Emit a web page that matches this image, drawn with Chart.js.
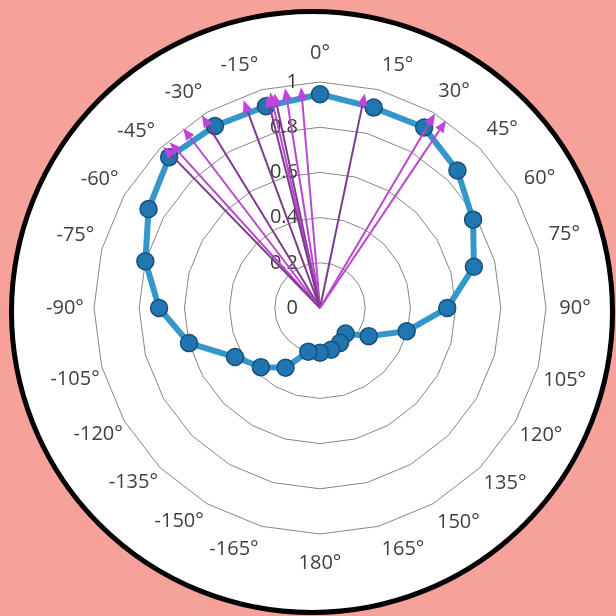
<!DOCTYPE html>
<html>
<head>
<meta charset="utf-8">
<script src="https://cdn.jsdelivr.net/npm/chart.js@4"></script>
<style>
  html, body { margin: 0; padding: 0; background: #f7a19b; }
  #wrap { position: relative; width: 616px; height: 616px; }
  #disc { position: absolute; left: 9px; top: 9px; width: 606px; height: 606px; box-sizing: border-box;
          border: 5px solid #000; border-radius: 50%; background: #fff; }
  #chart { position: absolute; left: 0; top: 0; }
</style>
</head>
<body>
<div id="wrap">
  <div id="disc"></div>
  <canvas id="chart" width="616" height="616"></canvas>
</div>
<script>
// angle labels, clockwise from the top
const angleLabels = ['0°', '15°', '30°', '45°', '60°', '75°', '90°', '105°', '120°', '135°', '150°', '165°',
  '180°', '-165°', '-150°', '-135°', '-120°', '-105°', '-90°', '-75°', '-60°', '-45°', '-30°', '-15°'];

// blue curve, one value per angle label
const response = [0.946, 0.918, 0.922, 0.86, 0.782, 0.705, 0.563, 0.397, 0.249, 0.16, 0.178, 0.191,
  0.198, 0.2, 0.305, 0.37, 0.434, 0.60, 0.712, 0.80, 0.876, 0.944, 0.93, 0.924];

// radial tick values
const radialTicks = [0, 0.2, 0.4, 0.6, 0.8, 1];

// magenta vectors: direction (degrees, clockwise from 0°) and length
const arrowAngles = [-4.9, -9, -12, -13, -14, -20.2, -31.5, -37.3, -42.2, -44.2, 11.8, 30.6, 33.9];
const arrowLengths = [0.98, 0.985, 0.97, 0.98, 0.97, 0.98, 1.0, 1.0, 0.99, 0.995, 0.97, 1.0, 1.0];

const LIGHT = '#b948cf';
const DARK = '#7d3b8f';
const arrowColors = [LIGHT, LIGHT, DARK, LIGHT, DARK, DARK, DARK, LIGHT, LIGHT, DARK, DARK, LIGHT, LIGHT];

const labelFont = { family: 'Open Sans', size: 20 };
const LABEL_DIST = 255;   // distance of label centres from the pole, px

const measure = document.createElement('canvas').getContext('2d');
measure.font = labelFont.size + 'px "' + labelFont.family + '"';

// keep every angle label roughly the same distance from the pole
function labelPadding(ctx) {
  const a = ctx.index * 2 * Math.PI / angleLabels.length;
  const w = measure.measureText(angleLabels[ctx.index]).width;
  const h = labelFont.size * 1.2;
  const proj = Math.abs(Math.sin(a)) * w / 2 + Math.abs(Math.cos(a)) * h / 2;
  return Math.max(0, LABEL_DIST - 226 - proj);
}

// radial tick labels, right-aligned just left of the 0° axis
const tickLabelPlugin = {
  id: 'tickLabels',
  beforeDatasetsDraw(chart) {
    const r = chart.scales.r;
    const ctx = chart.ctx;
    ctx.save();
    ctx.font = labelFont.size + 'px "' + labelFont.family + '"';
    ctx.fillStyle = '#3a3a3a';
    ctx.textAlign = 'right';
    ctx.textBaseline = 'middle';
    radialTicks.forEach(v => {
      ctx.fillText(String(v), r.xCenter - 22, r.yCenter - r.getDistanceFromCenterForValue(v));
    });
    ctx.restore();
  }
};

// vectors from the pole, drawn over the curve
const arrowPlugin = {
  id: 'arrows',
  afterDatasetsDraw(chart) {
    const r = chart.scales.r;
    const ctx = chart.ctx;
    const x0 = r.xCenter, y0 = r.yCenter;
    ctx.save();
    arrowAngles.forEach((deg, i) => {
      const a = deg * Math.PI / 180 - Math.PI / 2;
      const d = r.getDistanceFromCenterForValue(arrowLengths[i]);
      const x1 = x0 + Math.cos(a) * d, y1 = y0 + Math.sin(a) * d;
      const head = 12, hw = 5;
      const bx = x1 - Math.cos(a) * head, by = y1 - Math.sin(a) * head;
      ctx.strokeStyle = arrowColors[i];
      ctx.lineWidth = 2;
      ctx.beginPath();
      ctx.moveTo(x0, y0);
      ctx.lineTo(bx, by);
      ctx.stroke();
      ctx.fillStyle = '#c044dc';
      ctx.beginPath();
      ctx.moveTo(x1, y1);
      ctx.lineTo(bx - Math.sin(a) * hw, by + Math.cos(a) * hw);
      ctx.lineTo(bx + Math.sin(a) * hw, by - Math.cos(a) * hw);
      ctx.closePath();
      ctx.fill();
    });
    ctx.restore();
  }
};

new Chart(document.getElementById('chart'), {
  type: 'radar',
  data: {
    labels: angleLabels,
    datasets: [{
      data: response,
      borderColor: '#3397c9',
      borderWidth: 6,
      backgroundColor: 'rgba(0,0,0,0)',
      fill: false,
      pointRadius: 8.5,
      pointBackgroundColor: '#1f76b0',
      pointBorderColor: '#174f7a',
      pointBorderWidth: 1.5
    }]
  },
  options: {
    responsive: false,
    animation: false,
    layout: { padding: { left: 42, right: 20, top: 41, bottom: 41 } },
    plugins: { legend: { display: false }, tooltip: { enabled: false } },
    scales: {
      r: {
        min: 0,
        max: 1,
        ticks: { display: false, stepSize: 0.2 },
        grid: { color: '#858585', lineWidth: 1 },
        angleLines: { display: false },
        pointLabels: { font: labelFont, color: '#404040', padding: labelPadding }
      }
    }
  },
  plugins: [tickLabelPlugin, arrowPlugin]
});
</script>
</body>
</html>
